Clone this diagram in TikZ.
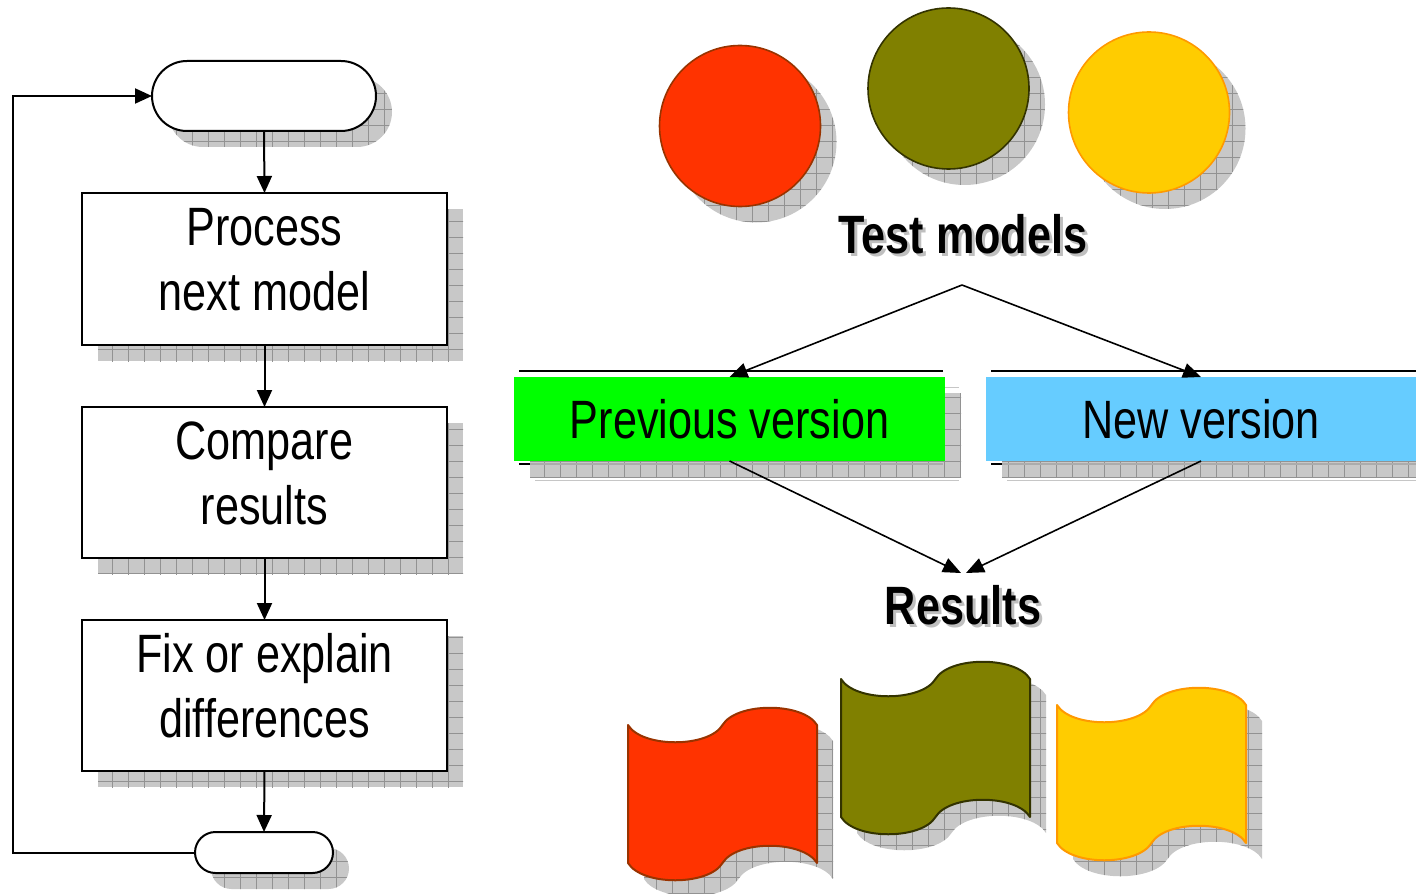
\documentclass[tikz,border=0pt]{standalone}
\usepackage{fontspec}
\newfontfamily\nf[FakeStretch=0.8]{Liberation Sans}
\usetikzlibrary{arrows.meta,patterns.meta,calc}
\definecolor{shgray}{HTML}{C8C8C8}
\definecolor{grgray}{HTML}{929292}
\definecolor{cred}{HTML}{FF3300}
\definecolor{credline}{HTML}{993300}
\definecolor{colive}{HTML}{808000}
\definecolor{coliveline}{HTML}{333300}
\definecolor{cyellow}{HTML}{FFCC00}
\definecolor{cyellowline}{HTML}{FF9900}
\definecolor{cgreen}{HTML}{00FF00}
\definecolor{cblue}{HTML}{66CCFF}
\tikzset{
  shadowfill/.style={fill=shgray, postaction={pattern={Hatch[distance=8pt,angle=0,line width=0.4pt]}, pattern color=grgray}},
  box/.style={draw, fill=white, line width=1pt, minimum width=182.5pt, inner sep=0pt, outer sep=0pt},
  pill/.style={draw, fill=white, line width=1pt, inner sep=0pt, outer sep=0pt},
  ftext/.style={font=\nf\fontsize{27pt}{32.5pt}\selectfont, align=center, inner sep=0pt},
  title/.style={font=\nf\bfseries\fontsize{27pt}{32.5pt}\selectfont, inner sep=0pt},
  vbox/.style={font=\nf\fontsize{27pt}{32.5pt}\selectfont, minimum width=215.5pt, minimum height=42pt, inner sep=0pt, outer sep=0pt},
  ball/.style={circle, minimum size=80.5pt, inner sep=0pt, outer sep=0pt, line width=0.8pt},
  arr/.style={line width=1pt, -{Triangle[length=8.5pt,width=7.5pt]}},
  arrb/.style={line width=0.8pt, -{Triangle[length=9pt,width=7.5pt]}},
  flagline/.style={line width=1pt, line join=round}
}
% wavy flag: top edge = bowl then cap, bottom edge the same shifted by 138
\newcommand{\flagpath}[2]{(#1,#2)
    .. controls (#1+14,#2+23) and (#1+80.5,#2+23) .. (#1+94.5,#2)
    .. controls (#1+108.5,#2-23) and (#1+175,#2-23) .. (#1+189,#2)
    -- (#1+189,#2+138)
    .. controls (#1+175,#2+115) and (#1+108.5,#2+115) .. (#1+94.5,#2+138)
    .. controls (#1+80.5,#2+161) and (#1+14,#2+161) .. (#1,#2+138) -- cycle}
\newcommand{\flagshadow}[2]{\path[shadowfill] \flagpath{#1+16}{#2+16};}
\newcommand{\flagbody}[4]{\draw[flagline, fill=#3, draw=#4] \flagpath{#1}{#2};}
\begin{document}
\begin{tikzpicture}[x=0.5pt,y=-0.5pt]
\useasboundingbox (0,0) rectangle (1416,893);

% ---------- left flowchart: shadows ----------
\path[shadowfill, rounded corners=17.5pt] (168,77) rectangle (392,147);
\path[shadowfill] (98,209) rectangle (463,361);
\path[shadowfill] (98,423) rectangle (463,574);
\path[shadowfill] (98,636) rectangle (463,787);
\path[shadowfill, rounded corners=10.25pt] (211,848) rectangle (349,889);

% ---------- left flowchart: shapes ----------
\node[pill, minimum width=112pt, minimum height=35pt, rounded corners=17.5pt] (top) at (264,96) {};
\node[box, minimum height=76pt] (b1) at (264.5,269) {};
\node[box, minimum height=75.5pt] (b2) at (264.5,482.5) {};
\node[box, minimum height=75.5pt] (b3) at (264.5,695.5) {};
\node[pill, minimum width=69pt, minimum height=20.5pt, rounded corners=10.25pt] (bot) at (264,852.5) {};

\node[ftext] (t1) at (264.5,260) {Process\\next model};
\node[ftext] (t2) at (264.5,473) {Compare\\results};
\node[ftext] (t3) at (264.5,686) {Fix or explain\\differences};

\draw[arr] (top.south) -- (b1.north);
\draw[arr] (b1.south) -- (b2.north);
\draw[arr] (b2.south) -- (b3.north);
\draw[arr] (b3.south) -- (bot.north);
\draw[arr] (bot.west) -- ++(-182,0) |- (top.west);

% ---------- circles ----------
\path[shadowfill] (756,142) circle[radius=40.25pt];
\path[shadowfill] (964.5,104.5) circle[radius=40.25pt];
\path[shadowfill] (1165,128.5) circle[radius=40.25pt];
\node[ball, fill=cred, draw=credline] (c1) at (740,126) {};
\node[ball, fill=colive, draw=coliveline] (c2) at (948.5,88.5) {};
\node[ball, fill=cyellow, draw=cyellowline] (c3) at (1149,112.5) {};

\node[title, text=gray!50] (tmsh) at (966,237) {Test models};
\node[title] (tm) at (963,234) {Test models};
\coordinate (apex) at (962,285);

% ---------- version boxes ----------
\path[shadowfill] (530,393) rectangle (961,477);
\draw[gray!45, line width=0.5pt] (535,387) -- (959,387);
\draw[gray!45, line width=0.5pt] (535,480) -- (959,480);
\draw[line width=1pt] (519,371) -- (943,371);
\draw[line width=1pt] (519,464) -- (530,464);
\draw[gray!65, line width=1pt] (530,464) -- (943,464);
\node[vbox, fill=cgreen] (prev) at (729.5,419) {Previous version};

\path[shadowfill] (1002,393) rectangle (1416,477);
\draw[gray!45, line width=0.5pt] (1007,387) -- (1416,387);
\draw[gray!45, line width=0.5pt] (1007,480) -- (1416,480);
\draw[line width=1pt] (991,371) -- (1416,371);
\draw[line width=1pt] (991,464) -- (1002,464);
\draw[gray!65, line width=1pt] (1002,464) -- (1416,464);
\node[vbox, fill=cblue] (new) at (1201,419) {New version};

\coordinate (resL) at (961,573);
\coordinate (resR) at (966,573);
\draw[arrb] (apex) -- (prev.north);
\draw[arrb] (apex) -- (new.north);
\draw[arrb] (prev.south) -- (resL);
\draw[arrb] (new.south) -- (resR);

\node[title, text=gray!50] (ressh) at (966,608.5) {Results};
\node[title] (res) at (963,605.5) {Results};

% ---------- flags ----------
\flagshadow{628}{725}
\flagshadow{841}{679}
\flagshadow{1057}{705}
\flagbody{628}{725}{cred}{credline}
\flagbody{841}{679}{colive}{coliveline}
\flagbody{1057}{705}{cyellow}{cyellowline}
\end{tikzpicture}
\end{document}
